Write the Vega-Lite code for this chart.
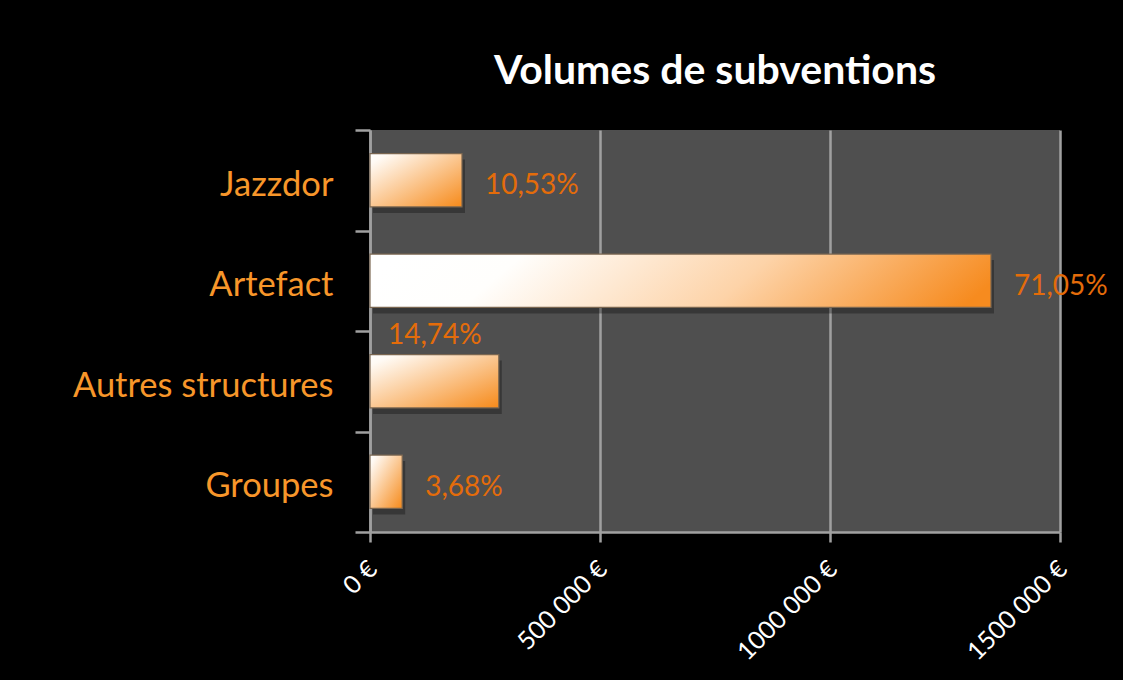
{
  "$schema": "https://vega.github.io/schema/vega-lite/v6.json",
  "autosize": {"type": "none"},
  "padding": {"left": 370, "top": 130, "right": 63, "bottom": 148},
  "width": 690,
  "height": 402,
  "background": "#000000",
  "title": {
    "text": "Volumes de subventions",
    "color": "#ffffff",
    "font": "Lato",
    "fontSize": 41,
    "fontWeight": "bold",
    "anchor": "middle",
    "offset": 19
  },
  "config": {
    "view": {"fill": "#4f4f4f", "stroke": null},
    "font": "Lato"
  },
  "data": {
    "values": [
      {"structure": "Jazzdor", "montant": 200000, "part": "10,53%"},
      {"structure": "Artefact", "montant": 1350000, "part": "71,05%"},
      {"structure": "Autres structures", "montant": 280000, "part": "14,74%"},
      {"structure": "Groupes", "montant": 70000, "part": "3,68%"}
    ]
  },
  "encoding": {
    "y": {
      "field": "structure",
      "type": "nominal",
      "sort": null,
      "scale": {"paddingInner": 0, "paddingOuter": 0},
      "axis": {
        "title": null,
        "tickBand": "extent",
        "domainColor": "#a0a0a0",
        "domainWidth": 2.5,
        "tickColor": "#a0a0a0",
        "tickWidth": 2.5,
        "tickSize": 15,
        "labelColor": "#f7962a",
        "labelFont": "Lato",
        "labelFontSize": 34.5,
        "labelLimit": 400,
        "labelPadding": 22,
        "labelOffset": 5
      }
    },
    "x": {
      "field": "montant",
      "type": "quantitative",
      "scale": {"domain": [0, 1500000], "nice": false},
      "axis": {
        "title": null,
        "values": [0, 500000, 1000000, 1500000],
        "labelExpr": "datum.value == 0 ? '0 €' : format(floor(datum.value / 1000), 'd') + ' 000 €'",
        "labelAngle": -45,
        "labelColor": "#ffffff",
        "labelFont": "Lato",
        "labelFontSize": 25,
        "labelPadding": 14,
        "labelOffset": -6,
        "grid": true,
        "gridColor": "#a0a0a0",
        "gridWidth": 2.5,
        "domainColor": "#a0a0a0",
        "domainWidth": 2.5,
        "tickColor": "#a0a0a0",
        "tickWidth": 2.5,
        "tickSize": 10
      }
    }
  },
  "layer": [
    {
      "mark": {"type": "bar", "height": {"band": 0.53}, "color": "#000000", "opacity": 0.3, "xOffset": 3, "yOffset": 6}
    },
    {
      "transform": [{"filter": "datum.structure != 'Artefact'"}],
      "mark": {
        "type": "bar",
        "height": {"band": 0.53},
        "stroke": "#7a6650",
        "strokeWidth": 1.2,
        "color": {
          "gradient": "linear",
          "x1": 0, "y1": 0, "x2": 1, "y2": 1,
          "stops": [
            {"offset": 0, "color": "#ffffff"},
            {"offset": 0.1, "color": "#fffaf4"},
            {"offset": 1, "color": "#f68a1a"}
          ]
        }
      }
    },
    {
      "transform": [{"filter": "datum.structure == 'Artefact'"}],
      "mark": {
        "type": "bar",
        "height": {"band": 0.53},
        "stroke": "#7a6650",
        "strokeWidth": 1.2,
        "color": {
          "gradient": "linear",
          "x1": 0, "y1": 0.45, "x2": 1, "y2": 0.55,
          "stops": [
            {"offset": 0, "color": "#ffffff"},
            {"offset": 0.2, "color": "#fffefc"},
            {"offset": 0.6, "color": "#fdd3a8"},
            {"offset": 1, "color": "#f68b1f"}
          ]
        }
      }
    },
    {
      "transform": [{"filter": "datum.structure != 'Autres structures'"}],
      "mark": {"type": "text", "align": "left", "baseline": "middle", "dx": 23, "dy": 6, "font": "Lato", "fontSize": 28, "color": "#e46c0a"},
      "encoding": {"text": {"field": "part"}}
    },
    {
      "transform": [{"filter": "datum.structure == 'Autres structures'"}],
      "mark": {"type": "text", "align": "left", "baseline": "middle", "dx": 18, "yOffset": -45, "font": "Lato", "fontSize": 28, "color": "#e46c0a"},
      "encoding": {"text": {"field": "part"}, "x": {"datum": 0, "type": "quantitative"}}
    }
  ]
}
